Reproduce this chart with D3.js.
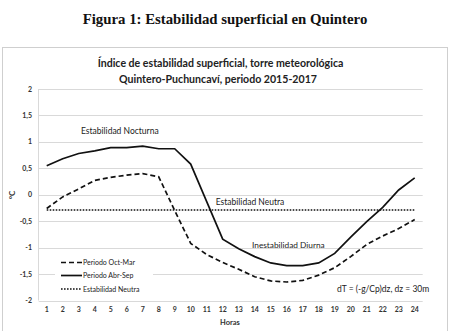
<!DOCTYPE html>
<html>
<head>
<meta charset="utf-8">
<script src="https://cdn.jsdelivr.net/npm/d3@7/dist/d3.min.js"></script>
<style>
  body { margin: 0; background: #fff; }
  svg { display: block; }
</style>
</head>
<body>
<svg id="chart" width="454" height="331"></svg>
<script>
// Hours of the day (category axis)
const hours = d3.range(1, 25);

// Surface stability index (°C) per hour, Oct–Mar period
const octMar = [-0.26, -0.04, 0.11, 0.27, 0.33, 0.37, 0.40, 0.34, -0.30, -0.92,
                -1.13, -1.28, -1.41, -1.55, -1.63, -1.65, -1.62, -1.52, -1.38, -1.17,
                -0.94, -0.78, -0.64, -0.47];

// Surface stability index (°C) per hour, Apr–Sep period
const abrSep = [0.55, 0.68, 0.78, 0.83, 0.89, 0.89, 0.92, 0.87, 0.87, 0.58,
                -0.13, -0.84, -1.02, -1.17, -1.29, -1.34, -1.34, -1.29, -1.11, -0.80,
                -0.51, -0.24, 0.09, 0.32];

// Neutral stability: dT = (-g/Cp)·dz with dz = 30 m
const neutral = hours.map(() => -0.29);

const yTicks = [-2, -1.5, -1, -0.5, 0, 0.5, 1, 1.5, 2];
const fmt = v => String(v).replace(".", ",");

const svg = d3.select("#chart");
const FONT = "Lato, 'Open Sans', sans-serif";

// Figure caption above the chart frame
svg.append("text")
  .attr("x", 225).attr("y", 24)
  .attr("text-anchor", "middle")
  .attr("font-family", "'Liberation Serif', 'Times New Roman', serif")
  .attr("font-weight", "bold")
  .attr("font-size", 14.8)
  .attr("fill", "#111")
  .text("Figura 1: Estabilidad superficial en Quintero");

// Chart frame
svg.append("rect")
  .attr("x", 2.5).attr("y", 47.5)
  .attr("width", 445).attr("height", 300)
  .attr("fill", "#fff")
  .attr("stroke", "#cfcfcf");

// Chart title
const title = svg.append("text")
  .attr("text-anchor", "middle")
  .attr("font-family", FONT)
  .attr("font-weight", "bold")
  .attr("font-size", 10.6)
  .attr("fill", "#222");
title.append("tspan").attr("x", 220.5).attr("y", 67)
  .text("Índice de estabilidad superficial, torre meteorológica");
title.append("tspan").attr("x", 218).attr("y", 83)
  .text("Quintero-Puchuncaví, periodo 2015-2017");

// Scales
const x = d3.scaleBand().domain(hours).range([38.7, 422.7]);
const cx = h => x(h) + x.bandwidth() / 2;
const y = d3.scaleLinear().domain([-2, 2]).range([300.5, 89]);

// Horizontal gridlines
svg.append("g")
  .selectAll("line")
  .data(yTicks)
  .join("line")
  .attr("x1", 38.7).attr("x2", 422.7)
  .attr("y1", d => Math.round(y(d)) + 0.5)
  .attr("y2", d => Math.round(y(d)) + 0.5)
  .attr("stroke", "#d9d9d9")
  .attr("stroke-width", 1);

// Left axis line
svg.append("line")
  .attr("x1", 38.5).attr("x2", 38.5)
  .attr("y1", y(2)).attr("y2", y(-2))
  .attr("stroke", "#d9d9d9");

// Y tick labels
svg.append("g")
  .selectAll("text")
  .data(yTicks)
  .join("text")
  .attr("x", 32).attr("y", d => y(d) + 2.5)
  .attr("text-anchor", "end")
  .attr("font-family", FONT)
  .attr("font-weight", "bold")
  .attr("font-size", 7)
  .attr("fill", "#333")
  .text(fmt);

// X tick labels
svg.append("g")
  .selectAll("text")
  .data(hours)
  .join("text")
  .attr("x", cx).attr("y", 312)
  .attr("text-anchor", "middle")
  .attr("font-family", FONT)
  .attr("font-weight", "bold")
  .attr("font-size", 7)
  .attr("fill", "#333")
  .text(d => d);

// Axis titles
svg.append("text")
  .attr("x", 230).attr("y", 325)
  .attr("text-anchor", "middle")
  .attr("font-family", FONT)
  .attr("font-weight", "bold")
  .attr("font-size", 7.5)
  .attr("fill", "#333")
  .text("Horas");
svg.append("text")
  .attr("transform", "translate(15,195) rotate(-90)")
  .attr("text-anchor", "middle")
  .attr("font-family", FONT)
  .attr("font-weight", "bold")
  .attr("font-size", 8)
  .attr("fill", "#333")
  .text("°C");

// Series lines
const line = d3.line().x((d, i) => cx(hours[i])).y(d => y(d));
const series = [
  { name: "Periodo Oct-Mar", values: octMar, dash: "5,3", width: 1.7 },
  { name: "Periodo Abr-Sep", values: abrSep, dash: null, width: 1.7 },
  { name: "Estabilidad Neutra", values: neutral, dash: "1.6,1.4", width: 1.5 }
];
svg.append("g")
  .selectAll("path")
  .data(series)
  .join("path")
  .attr("d", d => line(d.values))
  .attr("fill", "none")
  .attr("stroke", "#111")
  .attr("stroke-width", d => d.width)
  .attr("stroke-dasharray", d => d.dash);

// Legend (inside plot, lower left)
svg.append("rect")
  .attr("x", 55).attr("y", 255)
  .attr("width", 98).attr("height", 42)
  .attr("fill", "#fff");
const legend = svg.append("g")
  .selectAll("g")
  .data(series)
  .join("g")
  .attr("transform", (d, i) => `translate(61,${[262.5, 275.5, 289][i]})`);
legend.append("line")
  .attr("x1", 0).attr("x2", 21)
  .attr("stroke", "#111")
  .attr("stroke-width", d => d.width)
  .attr("stroke-dasharray", d => d.dash);
legend.append("text")
  .attr("x", 22).attr("y", 2.5)
  .attr("font-family", FONT)
  .attr("font-size", 7)
  .attr("fill", "#222")
  .text(d => d.name);

// Annotations
const notes = [
  { t: "Estabilidad Nocturna", x: 81, y: 134, a: "start", s: 8.5 },
  { t: "Estabilidad Neutra", x: 250, y: 205, a: "middle", s: 8.5 },
  { t: "Inestabilidad Diurna", x: 252, y: 248, a: "start", s: 8.3 },
  { t: "dT = (-g/Cp)dz, dz = 30m", x: 337, y: 292, a: "start", s: 8.5 }
];
svg.append("g")
  .selectAll("text")
  .data(notes)
  .join("text")
  .attr("x", d => d.x).attr("y", d => d.y)
  .attr("text-anchor", d => d.a)
  .attr("font-family", FONT)
  .attr("font-size", d => d.s)
  .attr("fill", "#222")
  .text(d => d.t);
</script>
</body>
</html>
